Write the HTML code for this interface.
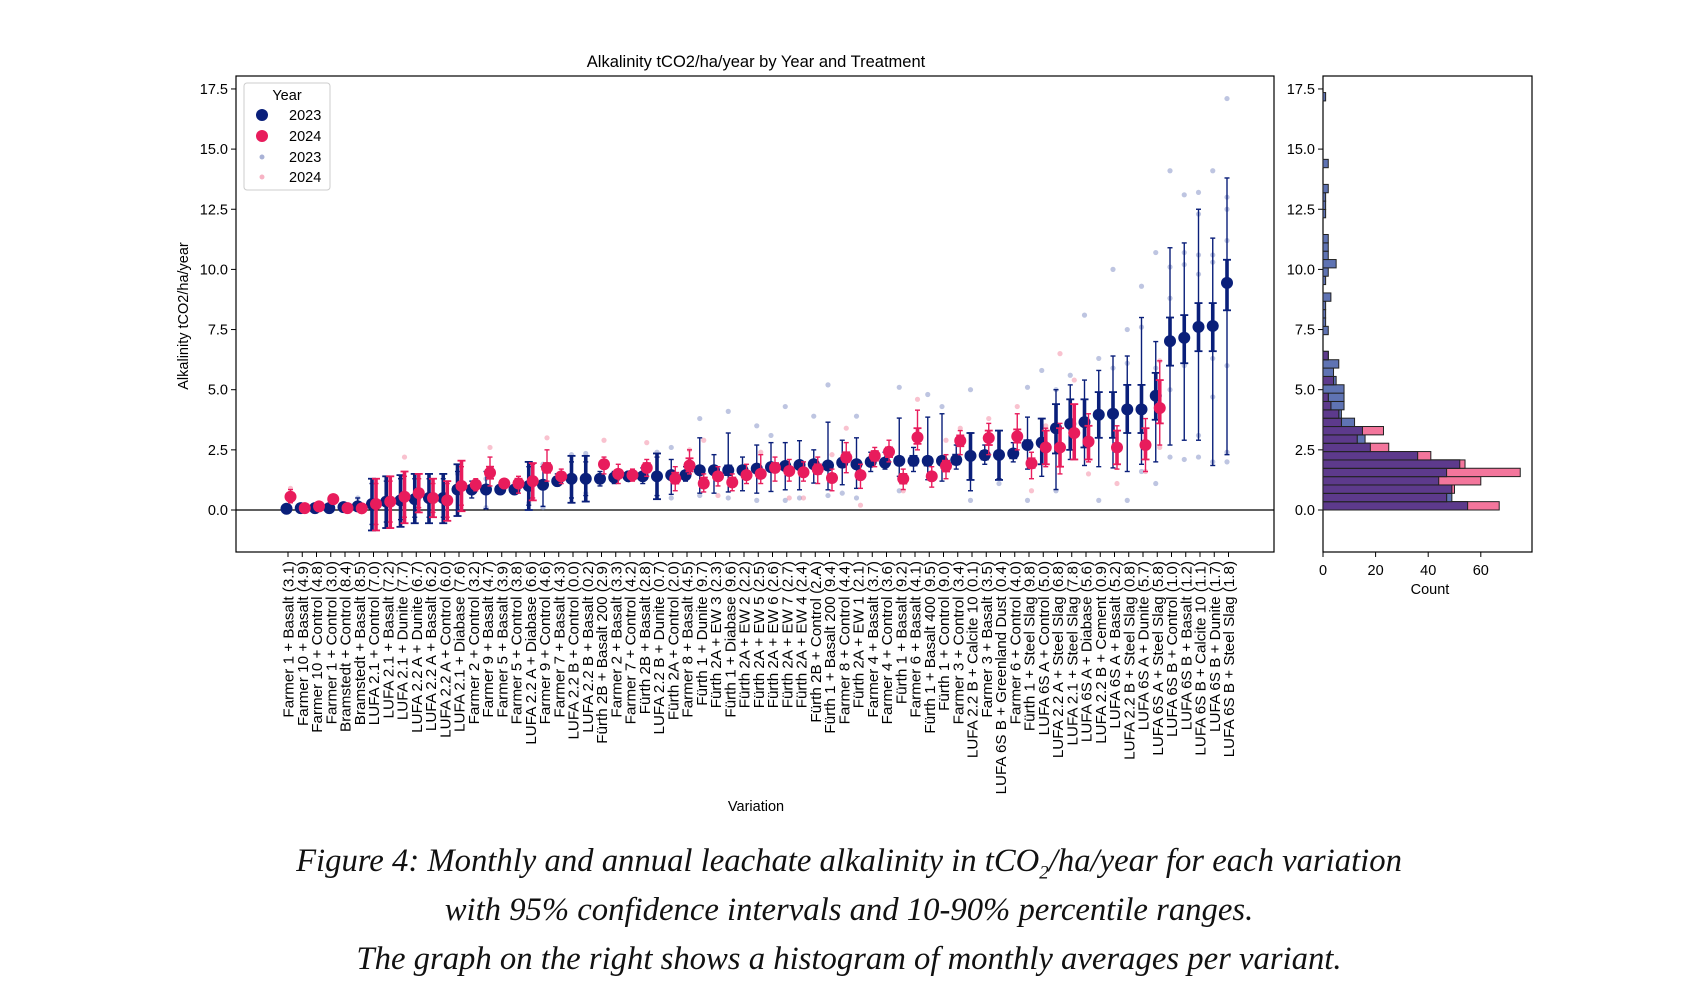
<!DOCTYPE html>
<html><head><meta charset="utf-8"><style>
body{margin:0;background:#fff;width:1698px;height:1000px;overflow:hidden}
svg{position:absolute;left:0;top:0}
.t{font-family:"Liberation Sans",sans-serif;fill:#000}
.cap{position:absolute;left:0;width:1698px;text-align:center;font-family:"Liberation Serif",serif;font-style:italic;font-size:32.7px;color:#111}
</style></head><body>
<svg id="chart" width="1698" height="1000"></svg>
<div class="cap" style="top:843px">Figure 4: Monthly and annual leachate alkalinity in tCO<sub style="font-size:19px">2</sub>/ha/year for each variation</div>
<div class="cap" style="top:892px">with 95% confidence intervals and 10-90% percentile ranges.</div>
<div class="cap" style="top:941px">The graph on the right shows a histogram of monthly averages per variant.</div>
<script>
const categories=["Farmer 1 + Basalt (3.1)","Farmer 10 + Basalt (4.9)","Farmer 10 + Control (4.8)","Farmer 1 + Control (3.0)","Bramstedt + Control (8.4)","Bramstedt + Basalt (8.5)","LUFA 2.1 + Control (7.0)","LUFA 2.1 + Basalt (7.2)","LUFA 2.1 + Dunite (7.7)","LUFA 2.2 A + Dunite (6.7)","LUFA 2.2 A + Basalt (6.2)","LUFA 2.2 A + Control (6.0)","LUFA 2.1 + Diabase (7.6)","Farmer 2 + Control (3.2)","Farmer 9 + Basalt (4.7)","Farmer 5 + Basalt (3.9)","Farmer 5 + Control (3.8)","LUFA 2.2 A + Diabase (6.6)","Farmer 9 + Control (4.6)","Farmer 7 + Basalt (4.3)","LUFA 2.2 B + Control (0.0)","LUFA 2.2 B + Basalt (0.2)","Fürth 2B + Basalt 200 (2.9)","Farmer 2 + Basalt (3.3)","Farmer 7 + Control (4.2)","Fürth 2B + Basalt (2.8)","LUFA 2.2 B + Dunite (0.7)","Fürth 2A + Control (2.0)","Farmer 8 + Basalt (4.5)","Fürth 1 + Dunite (9.7)","Fürth 2A + EW 3 (2.3)","Fürth 1 + Diabase (9.6)","Fürth 2A + EW 2 (2.2)","Fürth 2A + EW 5 (2.5)","Fürth 2A + EW 6 (2.6)","Fürth 2A + EW 7 (2.7)","Fürth 2A + EW 4 (2.4)","Fürth 2B + Control (2.A)","Fürth 1 + Basalt 200 (9.4)","Farmer 8 + Control (4.4)","Fürth 2A + EW 1 (2.1)","Farmer 4 + Basalt (3.7)","Farmer 4 + Control (3.6)","Fürth 1 + Basalt (9.2)","Farmer 6 + Basalt (4.1)","Fürth 1 + Basalt 400 (9.5)","Fürth 1 + Control (9.0)","Farmer 3 + Control (3.4)","LUFA 2.2 B + Calcite 10 (0.1)","Farmer 3 + Basalt (3.5)","LUFA 6S B + Greenland Dust (0.4)","Farmer 6 + Control (4.0)","Fürth 1 + Steel Slag (9.8)","LUFA 6S A + Control (5.0)","LUFA 2.2 A + Steel Slag (6.8)","LUFA 2.1 + Steel Slag (7.8)","LUFA 6S A + Diabase (5.6)","LUFA 2.2 B + Cement (0.9)","LUFA 6S A + Basalt (5.2)","LUFA 2.2 B + Steel Slag (0.8)","LUFA 6S A + Dunite (5.7)","LUFA 6S A + Steel Slag (5.8)","LUFA 6S B + Control (1.0)","LUFA 6S B + Basalt (1.2)","LUFA 6S B + Calcite 10 (1.1)","LUFA 6S B + Dunite (1.7)","LUFA 6S B + Steel Slag (1.8)"];
// 2023: mean, ci low, ci high, p10, p90
const mean23=[0.05,0.08,0.08,0.08,0.12,0.15,0.25,0.35,0.4,0.45,0.5,0.5,0.85,0.85,0.85,0.85,0.85,1.0,1.05,1.2,1.3,1.3,1.3,1.35,1.4,1.4,1.4,1.45,1.45,1.65,1.65,1.65,1.65,1.72,1.78,1.83,1.87,1.9,1.85,1.97,1.9,2.0,1.97,2.04,2.04,2.04,2.04,2.08,2.25,2.28,2.29,2.35,2.7,2.8,3.4,3.58,3.65,3.96,4.0,4.18,4.18,4.75,7.02,7.16,7.61,7.65,9.44];
const ciLo23=[0.0,0.03,0.03,0.03,0.07,0.08,-0.85,-0.75,-0.7,-0.55,-0.55,-0.55,-0.25,0.75,0.75,0.78,0.78,0.0,0.95,1.1,0.3,0.35,1.2,1.25,1.3,1.3,0.45,1.35,1.35,1.5,1.5,1.45,1.55,1.6,1.65,1.7,1.75,1.75,1.7,1.8,1.75,1.85,1.8,1.9,1.85,1.85,1.9,1.9,1.25,2.1,1.25,2.15,2.55,1.9,2.35,2.5,2.6,3.0,3.0,3.2,3.2,3.75,6.0,6.1,6.6,6.6,8.3];
const ciHi23=[0.1,0.12,0.12,0.12,0.17,0.22,1.3,1.4,1.45,1.5,1.5,1.5,1.9,0.95,0.95,0.95,0.95,2.0,1.2,1.35,2.25,2.25,1.45,1.45,1.5,1.5,2.35,1.55,1.55,1.8,1.8,1.85,1.8,1.85,1.9,1.95,2.0,2.05,2.0,2.1,2.05,2.15,2.1,2.2,2.25,2.2,2.2,2.3,3.2,2.45,3.3,2.5,2.9,3.8,4.4,4.6,4.6,4.9,4.9,5.2,5.2,5.7,8.0,8.1,8.6,8.6,10.4];
const p10_23=[0.0,0,0,0,0.05,0.05,-0.6,-0.5,-0.4,-0.3,-0.3,-0.3,0,0.5,0.05,0.7,0.7,0.2,0.15,1.0,0.5,0.6,1.0,1.1,1.2,1.1,0.6,0.65,1.2,0.7,0.7,0.75,0.8,0.7,0.77,0.84,0.84,1.12,0.84,1.05,0.9,1.6,1.7,1.4,1.6,1.26,1.2,1.7,0.8,1.9,1.3,2.0,1.7,1.4,0.85,2.1,1.85,1.8,1.75,1.6,1.9,2.0,2.7,2.9,2.9,1.85,2.3];
const p90_23=[0.15,0.15,0.15,0.15,0.2,0.5,1.1,1.2,1.3,1.3,1.3,1.3,1.6,1.2,1.6,1.0,1.0,1.8,1.8,1.5,2.0,2.0,1.6,1.6,1.6,1.75,2.2,2.1,1.8,3.0,2.3,3.2,2.2,2.7,2.8,2.8,2.88,2.5,3.65,2.9,3.0,2.4,2.4,3.82,2.6,3.86,4.0,2.7,3.2,2.7,3.3,2.8,3.86,3.8,5.0,5.2,5.4,5.8,6.4,6.4,8.0,7.0,10.9,11.1,12.5,11.3,13.8];
// 2024 (null = no data)
const mean24=[0.55,0.08,0.15,0.45,0.08,0.07,0.25,0.35,0.55,0.7,0.5,0.4,1.0,1.05,1.55,1.1,1.1,1.2,1.75,1.4,null,null,1.9,1.5,1.45,1.75,null,1.3,1.85,1.1,1.4,1.15,1.45,1.5,1.75,1.62,1.57,1.69,1.33,2.18,1.45,2.25,2.42,1.3,3.02,1.4,1.83,2.88,null,2.99,null,3.06,1.94,2.6,2.6,3.2,2.84,null,2.6,null,2.7,4.24,null,null,null,null,null];
const ciLo24=[0.4,0.03,0.1,0.3,0.03,0.02,-0.85,-0.75,-0.55,-0.1,-0.3,-0.45,-0.05,0.9,1.3,1.0,0.95,0.4,1.55,1.3,null,null,1.75,1.35,1.35,1.6,null,1.1,1.6,0.95,1.25,1.0,1.3,1.35,1.6,1.5,1.45,1.5,1.2,2.0,1.3,2.05,2.2,1.1,2.75,1.25,1.6,2.65,null,2.7,null,2.8,1.75,1.9,1.8,2.1,2.1,null,1.9,null,2.1,3.6,null,null,null,null,null];
const ciHi24=[0.7,0.12,0.22,0.6,0.12,0.12,1.3,1.4,1.6,1.5,1.3,1.2,2.05,1.2,1.8,1.2,1.3,1.95,1.95,1.55,null,null,2.05,1.65,1.55,1.95,null,1.55,2.15,1.35,1.55,1.35,1.6,1.65,1.95,1.75,1.7,1.9,1.5,2.4,1.6,2.45,2.6,1.5,3.4,1.55,2.05,3.1,null,3.3,null,3.35,2.15,3.3,3.4,4.4,3.5,null,3.3,null,3.4,5.4,null,null,null,null,null];
const p10_24=[0.3,0,0.05,0.25,0,0,-0.6,-0.5,-0.3,0.1,-0.1,-0.3,0.2,0.8,1.0,0.9,0.7,0.5,1.2,1.1,null,null,1.5,1.1,1.2,1.4,null,0.8,1.5,0.75,1.0,0.8,1.1,1.1,1.2,1.2,1.2,1.1,0.8,1.55,0.9,1.8,2.0,0.85,2.5,0.95,1.3,2.3,null,2.3,null,2.5,1.3,1.8,1.5,2.1,2.0,null,1.7,null,1.6,2.7,null,null,null,null,null];
const p90_24=[0.85,0.15,0.25,0.65,0.15,0.15,1.1,1.2,1.4,1.3,1.1,1.1,1.8,1.3,2.2,1.3,1.4,1.9,2.5,1.7,null,null,2.2,1.9,1.7,2.1,null,1.8,2.5,1.5,1.8,1.5,1.9,2.3,2.2,2.1,2.0,2.2,1.7,2.8,1.9,2.6,2.9,1.7,4.15,1.8,2.3,3.3,null,3.6,null,4.0,2.4,3.4,3.6,4.4,4.0,null,3.5,null,3.8,6.2,null,null,null,null,null];
// monthly points: [category index, value]
const pts23=[[5,0.5],[12,1.5],[14,0.1],[14,1.3],[17,0.3],[18,0.1],[18,1.9],[20,2.3],[21,2.35],[21,0.7],[26,2.4],[27,0.5],[27,2.6],[29,3.8],[29,0.6],[31,4.1],[31,0.5],[33,3.5],[33,0.4],[34,3.1],[35,0.4],[35,4.3],[36,0.5],[37,3.9],[38,0.6],[38,5.2],[39,0.7],[40,3.9],[40,0.5],[43,5.1],[43,0.8],[45,4.8],[46,4.3],[48,0.4],[48,5.0],[50,1.1],[52,0.4],[52,5.1],[53,5.8],[54,0.8],[54,5.0],[55,5.6],[56,8.1],[57,6.3],[57,0.4],[58,10.0],[58,5.9],[59,7.5],[59,0.4],[59,6.1],[60,9.3],[60,7.6],[60,1.6],[61,10.7],[61,5.9],[61,1.1],[62,14.1],[62,10.1],[62,8.8],[62,5.0],[62,2.2],[63,13.1],[63,10.7],[63,10.2],[63,6.0],[63,2.1],[64,13.2],[64,12.3],[64,10.6],[64,9.8],[64,3.1],[64,2.2],[65,14.1],[65,10.6],[65,10.3],[65,6.3],[65,4.7],[65,2.0],[66,17.1],[66,13.0],[66,12.5],[66,11.2],[66,6.0],[66,2.4],[66,2.0]];
const pts24=[[0,0.9],[3,0.6],[8,2.2],[14,2.6],[18,3.0],[22,2.9],[25,2.8],[28,2.5],[29,2.9],[30,0.6],[33,2.4],[35,0.5],[36,0.5],[38,2.3],[39,3.4],[40,0.2],[43,0.8],[44,4.6],[46,2.9],[47,3.4],[49,3.8],[51,4.3],[52,0.8],[53,3.5],[54,6.5],[55,5.4],[56,1.5],[58,1.1],[60,1.6],[61,6.2],[61,2.6]];
// histogram bins (width 0.347), counts per bin from 0
const binWidth=0.347;
const hist23=[55,49,49,44,47,52,36,18,16,15,12,7,8,8,8,5,4,6,2,0,0,2,1,1,1,3,0,1,2,5,2,2,2,0,0,1,1,1,2,0,0,2,0,0,0,0,0,0,0,1];
const hist24=[67,47,50,60,75,54,41,25,13,23,7,6,3,2,0,4,0,0,2,0,0,0,0,0,0,0,0,0,0,0,0,0,0,0,0,0,0,0,0,0,0,0,0,0,0,0,0,0,0,0];
const yTicks=[0,2.5,5,7.5,10,12.5,15,17.5];
const yTickLabels=["0.0","2.5","5.0","7.5","10.0","12.5","15.0","17.5"];
const cTicks=[0,20,40,60];

const NS="http://www.w3.org/2000/svg";
const svg=document.getElementById('chart');
function mk(tag,attrs,parent){const e=document.createElementNS(NS,tag);for(const k in attrs)e.setAttribute(k,attrs[k]);(parent||svg).appendChild(e);return e;}
const PL=236,PR=1274,PT=76,PB=552;
const Y0=510,YU=24.06;
function y(v){return Y0-v*YU;}
function x(i){return 288+i*14.25;}
const HL=1323,HR=1532;
function hx(c){return HL+c*2.63;}
const C23="#0a1f7a",C24="#e81c5c";

const frame=mk('rect',{x:PL,y:PT,width:PR-PL,height:PB-PT,fill:'none',stroke:'#000','stroke-width':1.2});


const zl=mk('line',{x1:PL,x2:PR,y1:y(0),y2:y(0),stroke:'#000','stroke-width':1.2});


const tt=mk('text',{x:756,y:67,'text-anchor':'middle','font-size':16.5,class:'t'});tt.textContent='Alkalinity tCO2/ha/year by Year and Treatment';


const yl=mk('text',{x:0,y:0,'text-anchor':'middle','font-size':14.5,class:'t',transform:'translate(188,316) rotate(-90)'});yl.textContent='Alkalinity tCO2/ha/year';


const xl=mk('text',{x:756,y:811,'text-anchor':'middle','font-size':14.5,class:'t'});xl.textContent='Variation';



yTicks.forEach((v,k)=>{
  mk('line',{x1:PL-5,x2:PL,y1:y(v),y2:y(v),stroke:'#000'});
  const t=mk('text',{x:PL-8,y:y(v)+5,'text-anchor':'end','font-size':14.5,class:'t'});t.textContent=yTickLabels[k];
  
  
  mk('line',{x1:HL-5,x2:HL,y1:y(v),y2:y(v),stroke:'#000'});
  const t2=mk('text',{x:HL-8,y:y(v)+5,'text-anchor':'end','font-size':14.5,class:'t'});t2.textContent=yTickLabels[k];
  
  
});
categories.forEach((c,i)=>{
  mk('line',{x1:x(i),x2:x(i),y1:PB,y2:PB+5,stroke:'#000'});
  const t=mk('text',{x:0,y:0,'text-anchor':'end','font-size':15.2,class:'t',transform:`translate(${x(i)+5.5},${PB+9}) rotate(-90)`});t.textContent=c;
  
  
});
pts23.forEach(p=>{const c=mk('circle',{cx:x(p[0])-1.5,cy:y(p[1]),r:2.6,fill:'#7d8bc4','fill-opacity':0.5});
  
  });
pts24.forEach(p=>{const c=mk('circle',{cx:x(p[0])+2.5,cy:y(p[1]),r:2.6,fill:'#f4869f','fill-opacity':0.5});
  
  });
function series(m,lo,hi,p10,p90,col,dx,name){
  m.forEach((v,i)=>{
    if(v===null)return;
    const cx=x(i)+dx;
    const g=mk('g',{});
    
    
    mk('line',{x1:cx,x2:cx,y1:y(p10[i]),y2:y(p90[i]),stroke:col,'stroke-width':1.4},g);
    mk('line',{x1:cx-2.5,x2:cx+2.5,y1:y(p10[i]),y2:y(p10[i]),stroke:col,'stroke-width':1.4},g);
    mk('line',{x1:cx-2.5,x2:cx+2.5,y1:y(p90[i]),y2:y(p90[i]),stroke:col,'stroke-width':1.4},g);
    mk('line',{x1:cx,x2:cx,y1:y(lo[i]),y2:y(hi[i]),stroke:col,'stroke-width':3.6},g);
    mk('line',{x1:cx-4,x2:cx+4,y1:y(lo[i]),y2:y(lo[i]),stroke:col,'stroke-width':1.8},g);
    mk('line',{x1:cx-4,x2:cx+4,y1:y(hi[i]),y2:y(hi[i]),stroke:col,'stroke-width':1.8},g);
    mk('circle',{cx:cx,cy:y(v),r:6,fill:col},g);
  });
}
series(mean23,ciLo23,ciHi23,p10_23,p90_23,C23,-1.5,'mean-2023');
series(mean24,ciLo24,ciHi24,p10_24,p90_24,C24,2.5,'mean-2024');

const lg=mk('g',{});


mk('rect',{x:244,y:83,width:86,height:107,rx:3,fill:'#fff',stroke:'#ccc'},lg);
const lt=mk('text',{x:287,y:100,'text-anchor':'middle','font-size':14.5,class:'t'},lg);lt.textContent='Year';
[[C23,6,'2023',120],[C24,6,'2024',141],['#a9b2d6',2.5,'2023',162],['#f7b3c4',2.5,'2024',182]].forEach(e=>{
  const c=mk('circle',{cx:262,cy:e[3]-5,r:e[1],fill:e[0]},lg);
  
  
  const t=mk('text',{x:289,y:e[3],'font-size':14.5,class:'t'},lg);t.textContent=e[2];
  
  
});

const hf=mk('rect',{x:HL,y:PT,width:HR-HL,height:PB-PT,fill:'none',stroke:'#000','stroke-width':1.2});


hist23.forEach((c23,i)=>{
  const c24=hist24[i];
  const yt=y((i+1)*binWidth),h=binWidth*YU;
  if(c23>0){const r=mk('rect',{x:HL,y:yt,width:hx(c23)-HL,height:h,fill:'#5f73b3',stroke:'#222','stroke-width':1});
    
    }
  if(c24>0){const r=mk('rect',{x:HL,y:yt,width:hx(c24)-HL,height:h,fill:'#f3769c',stroke:'#222','stroke-width':1});
    
    }
  const mn=Math.min(c23,c24);
  if(mn>0){const r=mk('rect',{x:HL,y:yt,width:hx(mn)-HL,height:h,fill:'#5d3a8c',stroke:'#222','stroke-width':1});
    
    }
});
cTicks.forEach(c=>{
  mk('line',{x1:hx(c),x2:hx(c),y1:PB,y2:PB+5,stroke:'#000'});
  const t=mk('text',{x:hx(c),y:PB+23,'text-anchor':'middle','font-size':14.5,class:'t'});t.textContent=c;
  
  
});
const ct=mk('text',{x:1430,y:594,'text-anchor':'middle','font-size':14.5,class:'t'});ct.textContent='Count';


</script>
</body></html>
